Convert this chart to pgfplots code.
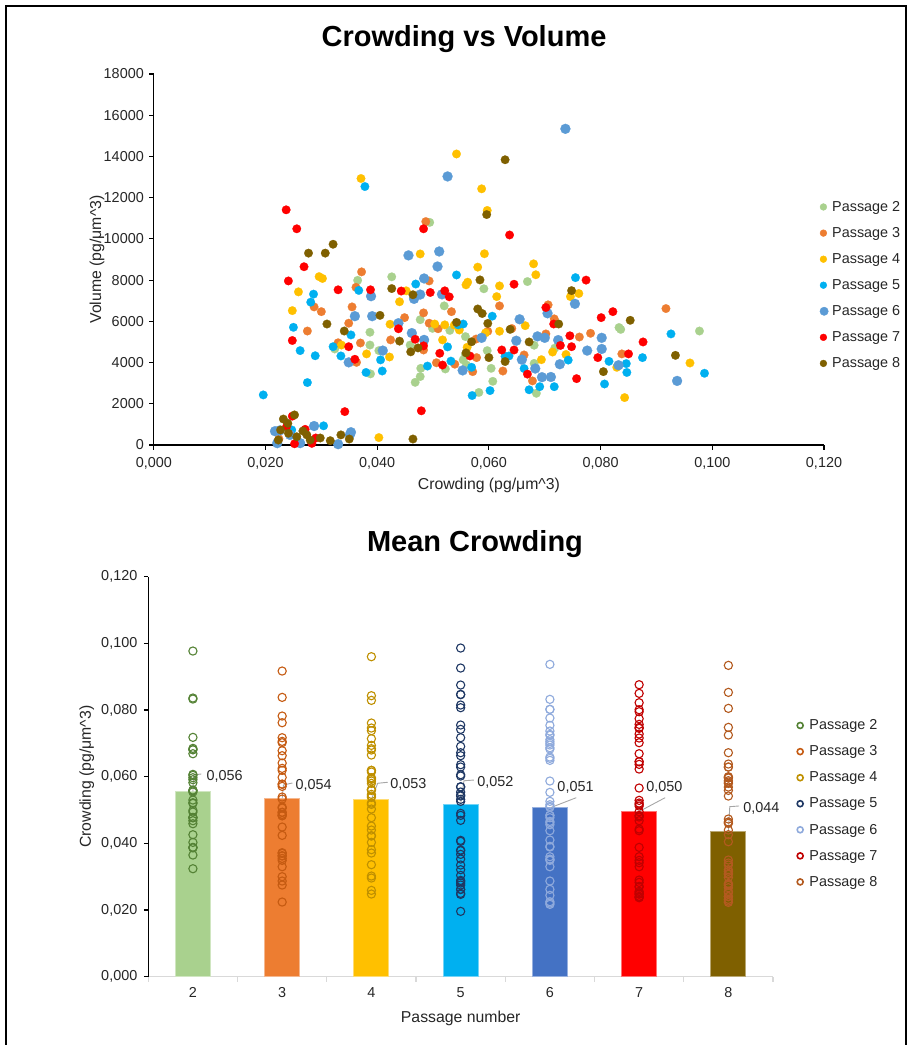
\documentclass[border=0pt]{standalone}
\usepackage{pgfplots}
\pgfplotsset{compat=1.18}
\usepackage{pgfplotstable}
\usepackage{fontspec}
\setmainfont{Liberation Sans}

% scatter fills (top chart)
\definecolor{sTwo}{HTML}{A9D18E}
\definecolor{sThree}{HTML}{ED7D31}
\definecolor{sFour}{HTML}{FFC000}
\definecolor{sFive}{HTML}{00B0F0}
\definecolor{sSix}{HTML}{5B9BD5}
\definecolor{sSeven}{HTML}{FF0000}
\definecolor{sEight}{HTML}{7F6000}
% bar fills (bottom chart)
\definecolor{bSix}{HTML}{4472C4}
% ring outlines (bottom chart)
\definecolor{rTwo}{HTML}{548235}
\definecolor{rThree}{HTML}{C55A11}
\definecolor{rFour}{HTML}{BF9000}
\definecolor{rFive}{HTML}{1F3864}
\definecolor{rSix}{HTML}{8FAADC}
\definecolor{rSeven}{HTML}{C00000}
\definecolor{rEight}{HTML}{B35A1F}
\definecolor{txt}{HTML}{262626}
\definecolor{leader}{HTML}{A6A6A6}

% crowding (pg/um^3) and volume per cell, one table per passage
\pgfplotstableread{
c v
0.0324 4660
0.0365 7990
0.0387 5470
0.0387 4850
0.0388 3450
0.0403 4580
0.0426 8160
0.0459 4850
0.0468 3040
0.0477 3320
0.0478 3720
0.0477 6080
0.0494 10800
0.0499 5660
0.0520 6750
0.0522 3690
0.0530 5560
0.0554 4130
0.0560 3880
0.0558 5260
0.0558 4390
0.0582 2550
0.0591 7580
0.0597 4580
0.0604 3720
0.0607 3090
0.0669 7930
0.0681 3960
0.0681 4840
0.0685 2510
0.0718 4700
0.0833 5700
0.0836 5610
0.0977 5530
}\pTwo

\pgfplotstableread{
c v
0.0224 300
0.0275 5530
0.0287 6700
0.0300 6470
0.0330 4960
0.0349 5910
0.0355 6700
0.0362 7650
0.0363 4010
0.0370 4950
0.0372 8400
0.0424 5100
0.0449 6180
0.0483 6410
0.0483 4610
0.0487 10840
0.0493 7960
0.0493 5910
0.0506 3990
0.0509 5640
0.0533 6470
0.0539 3920
0.0571 3560
0.0577 5140
0.0578 4240
0.0598 5520
0.0619 6750
0.0625 3590
0.0641 5650
0.0663 4370
0.0678 3110
0.0702 5390
0.0706 6800
0.0717 6120
0.0762 5240
0.0782 5420
0.0838 4420
0.0917 6620
}\pThree

\pgfplotstableread{
c v
0.0248 6520
0.0259 7430
0.0296 8170
0.0302 8080
0.0336 4850
0.0371 12930
0.0381 4420
0.0403 360
0.0422 4270
0.0423 5860
0.0440 6950
0.0452 7480
0.0477 9270
0.0503 5870
0.0517 5100
0.0521 5830
0.0538 5820
0.0547 5580
0.0542 14120
0.0559 7770
0.0562 7900
0.0561 4740
0.0580 8630
0.0587 12430
0.0592 9280
0.0594 5440
0.0597 11380
0.0614 7200
0.0619 7720
0.0619 5520
0.0665 5790
0.0680 8790
0.0684 8260
0.0694 4140
0.0714 4510
0.0738 4390
0.0746 7200
0.0761 7350
0.0829 3770
0.0843 2300
0.0960 3980
}\pFour

\pgfplotstableread{
c v
0.0196 2430
0.0247 730
0.0250 5710
0.0262 110
0.0262 4580
0.0275 3030
0.0281 6930
0.0286 7320
0.0289 4330
0.0304 930
0.0321 4770
0.0335 4320
0.0353 5340
0.0367 7500
0.0378 12540
0.0380 3520
0.0406 4130
0.0409 3590
0.0469 7810
0.0484 5050
0.0490 3830
0.0526 4760
0.0532 4070
0.0542 8250
0.0545 5830
0.0554 5870
0.0569 3770
0.0570 2400
0.0602 2640
0.0606 6250
0.0629 4300
0.0636 4320
0.0663 3710
0.0672 2680
0.0691 2830
0.0717 2830
0.0742 4120
0.0755 8120
0.0807 2960
0.0815 4060
0.0846 3950
0.0847 3520
0.0875 4240
0.0926 5390
0.0986 3480
}\pFive

\pgfplotstableread{
c v
0.0217 670
0.0221 90
0.0225 700
0.0244 490
0.0262 90
0.0287 920
0.0330 40
0.0349 4010
0.0351 490
0.0353 620
0.0360 6250
0.0389 7220
0.0391 6250
0.0410 4580
0.0438 5910
0.0456 9200
0.0462 5430
0.0466 7090
0.0477 7300
0.0484 8080
0.0484 5100
0.0508 8660
0.0511 9390
0.0516 7310
0.0526 13030
0.0553 3620
0.0587 5200
0.0649 5060
0.0655 6100
0.0659 4140
0.0683 3710
0.0687 5270
0.0695 3290
0.0700 5200
0.0705 6390
0.0711 3300
0.0724 5090
0.0727 3920
0.0737 15340
0.0754 6850
0.0776 4580
0.0802 5200
0.0802 4660
0.0832 3870
0.0937 3110
}\pSix

\pgfplotstableread{
c v
0.0237 11410
0.0238 910
0.0241 7960
0.0248 1400
0.0248 5070
0.0252 60
0.0256 10490
0.0269 8650
0.0271 760
0.0283 80
0.0290 340
0.0330 7530
0.0342 1620
0.0349 4770
0.0360 4160
0.0388 7530
0.0438 5640
0.0443 7470
0.0468 5130
0.0479 1660
0.0483 10490
0.0483 4810
0.0495 7400
0.0512 4450
0.0517 3880
0.0521 7480
0.0529 7190
0.0566 4320
0.0623 4610
0.0637 10190
0.0645 4610
0.0645 7800
0.0669 3440
0.0702 6670
0.0716 5870
0.0728 4830
0.0745 5300
0.0748 4770
0.0757 3220
0.0774 8000
0.0795 4240
0.0801 6180
0.0822 6470
0.0850 4420
0.0876 5000
}\pSeven

\pgfplotstableread{
c v
0.0223 240
0.0227 730
0.0232 1260
0.0240 1050
0.0241 570
0.0252 1460
0.0256 400
0.0267 680
0.0274 490
0.0277 9310
0.0280 240
0.0298 340
0.0307 9310
0.0310 5870
0.0316 210
0.0321 9740
0.0335 490
0.0341 5530
0.0350 290
0.0405 6290
0.0426 7590
0.0440 5040
0.0460 4520
0.0464 7290
0.0464 290
0.0473 4710
0.0542 5950
0.0559 4470
0.0569 5010
0.0580 6600
0.0584 8010
0.0588 6380
0.0596 11180
0.0598 5900
0.0600 4240
0.0629 4050
0.0629 13840
0.0638 5610
0.0672 5000
0.0725 5870
0.0748 7490
0.0805 3560
0.0853 6050
0.0934 4350
}\pEight

% mean crowding per passage
\pgfplotstableread{
p mean
2 0.0556
3 0.0535
4 0.0532
5 0.0518
6 0.0508
7 0.0496
8 0.0436
}\means

\newcommand{\ticksize}{\fontsize{14.4bp}{17bp}\selectfont}
\newcommand{\labsize}{\fontsize{15.8bp}{19bp}\selectfont}
\newcommand{\titsize}{\fontsize{29bp}{34bp}\selectfont\bfseries}

\pgfplotsset{
  scat/.style={only marks, mark=*, color=#1, mark size=4.3bp,
    mark options={line width=0.2bp},
    legend image code/.code={\fill[#1] (3.5bp,0bp) circle[radius=3.4bp];}},
  ring/.style={only marks, mark=o, color=#1, mark size=4.1bp,
    mark options={line width=1.1bp},
    legend image code/.code={\draw[#1, line width=1.6bp] (3.5bp,0bp) circle[radius=3bp];}},
  meanbar/.style={ybar, bar width=35bp, bar shift=0pt, fill=#1,
    draw=#1!55!white, line width=1bp, forget plot},
  plain/.style={
    scale only axis, clip=false, scaled ticks=false,
    axis x line*=bottom, axis y line*=left,
    axis line style={-},
    tick align=outside, major tick length=4.5bp,
    tick label style={font=\ticksize, text=txt},
    label style={font=\labsize, text=txt},
    legend cell align=left,
    every axis title shift=0pt,
  },
}

\begin{document}
\begin{tikzpicture}
\path[use as bounding box] (0,0) rectangle (912bp,-1045bp);

% ---------------- Crowding vs Volume ----------------
\begin{axis}[plain,
  at={(153.8bp,-445bp)}, anchor=south west,
  width=670.2bp, height=371bp,
  xmin=0, xmax=0.12, ymin=0, ymax=18000,
  x axis line style={black, line width=1.2bp},
  y axis line style={black, line width=1.2bp},
  tick style={black, line width=1.1bp},
  xtick={0,0.02,0.04,0.06,0.08,0.1,0.12},
  xticklabels={{0,000},{0,020},{0,040},{0,060},{0,080},{0,100},{0,120}},
  ytick={0,2000,4000,6000,8000,10000,12000,14000,16000,18000},
  yticklabels={0,2000,4000,6000,8000,10000,12000,14000,16000,18000},
  xticklabel style={yshift=-4.5bp},
  yticklabel style={xshift=-2bp},
  xlabel={Crowding (pg/μm\textasciicircum 3)},
  ylabel={Volume (pg/μm\textasciicircum 3)},
  xlabel style={at={(axis description cs:0.5,-0.11)}, anchor=center},
  ylabel style={at={(axis description cs:-0.0848,0.5)}, anchor=center},
  title={Crowding vs Volume},
  title style={font=\titsize, at={(axis description cs:0.4629,1.0943)}, anchor=center},
  legend style={at={(axis description cs:0.9933,0.6631)}, anchor=north west,
    draw=none, fill=none, inner sep=0pt, font=\ticksize, text=txt,
    row sep=10.6bp, column sep=1.7bp,
    nodes={inner sep=2bp, text depth=0.15em}},
]
\addplot[scat=sTwo] table[x=c, y=v] {\pTwo};
\addlegendentry{Passage 2}
\addplot[scat=sThree] table[x=c, y=v] {\pThree};
\addlegendentry{Passage 3}
\addplot[scat=sFour] table[x=c, y=v] {\pFour};
\addlegendentry{Passage 4}
\addplot[scat=sFive] table[x=c, y=v] {\pFive};
\addlegendentry{Passage 5}
\addplot[scat=sSix, mark size=5bp,
  legend image code/.code={\fill[sSix] (4.2bp,0bp) circle[radius=4.2bp];}]
  table[x=c, y=v] {\pSix};
\addlegendentry{Passage 6}
\addplot[scat=sSeven] table[x=c, y=v] {\pSeven};
\addlegendentry{Passage 7}
\addplot[scat=sEight] table[x=c, y=v] {\pEight};
\addlegendentry{Passage 8}
\end{axis}

% ---------------- Mean Crowding ----------------
\begin{axis}[plain,
  at={(148.3bp,-976.7bp)}, anchor=south west,
  width=624.7bp, height=400bp,
  xmin=1.5, xmax=8.5, ymin=0, ymax=0.12,
  x axis line style={draw=black!15, line width=1.5bp},
  y axis line style={black, line width=1.2bp},
  ytick style={black, line width=1.1bp},
  xtick style={draw=none},
  minor xtick={1.5,2.5,3.5,4.5,5.5,6.5,7.5,8.5},
  minor tick length=5bp,
  minor x tick style={draw=black!15, line width=1.3bp},
  xtick={2,3,4,5,6,7,8},
  xticklabels={2,3,4,5,6,7,8},
  ytick={0,0.02,0.04,0.06,0.08,0.1,0.12},
  yticklabels={{0,000},{0,020},{0,040},{0,060},{0,080},{0,100},{0,120}},
  xticklabel style={yshift=-2.8bp},
  yticklabel style={xshift=-3bp},
  xlabel={Passage number},
  ylabel={Crowding (pg/μm\textasciicircum 3)},
  xlabel style={at={(axis description cs:0.5,-0.104)}, anchor=center},
  ylabel style={at={(axis description cs:-0.0986,0.5)}, anchor=center},
  title={Mean Crowding},
  title style={font=\titsize, at={(axis description cs:0.523,1.0818)}, anchor=center},
  legend style={at={(axis description cs:1.0371,0.648)}, anchor=north west,
    draw=none, fill=none, inner sep=0pt, font=\ticksize, text=txt,
    row sep=10.6bp, column sep=3.5bp,
    nodes={inner sep=2bp, text depth=0.15em}},
]
\addplot[meanbar=sTwo]   table[x=p, y=mean, restrict x to domain=2:2] {\means};
\addplot[meanbar=sThree] table[x=p, y=mean, restrict x to domain=3:3] {\means};
\addplot[meanbar=sFour]  table[x=p, y=mean, restrict x to domain=4:4] {\means};
\addplot[meanbar=sFive]  table[x=p, y=mean, restrict x to domain=5:5] {\means};
\addplot[meanbar=bSix]   table[x=p, y=mean, restrict x to domain=6:6] {\means};
\addplot[meanbar=sSeven] table[x=p, y=mean, restrict x to domain=7:7] {\means};
\addplot[meanbar=sEight] table[x=p, y=mean, restrict x to domain=8:8] {\means};

\addplot[ring=rTwo]   table[x expr=2, y=c] {\pTwo};
\addlegendentry{Passage 2}
\addplot[ring=rThree] table[x expr=3, y=c] {\pThree};
\addlegendentry{Passage 3}
\addplot[ring=rFour]  table[x expr=4, y=c] {\pFour};
\addlegendentry{Passage 4}
\addplot[ring=rFive]  table[x expr=5, y=c] {\pFive};
\addlegendentry{Passage 5}
\addplot[ring=rSix]   table[x expr=6, y=c] {\pSix};
\addlegendentry{Passage 6}
\addplot[ring=rSeven] table[x expr=7, y=c] {\pSeven};
\addlegendentry{Passage 7}
\addplot[ring=rEight] table[x expr=8, y=c] {\pEight};
\addlegendentry{Passage 8}

% value labels with leader lines
\begin{scope}[leader, line width=0.9bp]
\draw (axis cs:2,0.0556) -- ++(0.7bp,16.4bp) -- ++(7.7bp,1bp);
\draw (axis cs:3,0.0535) -- ++(1.3bp,13.4bp) -- ++(9bp,2bp);
\draw (axis cs:4,0.0532) -- ++(6.3bp,16.1bp) -- ++(10bp,1bp);
\draw (axis cs:5,0.0518) -- ++(3.3bp,23.3bp) -- ++(10bp,0.7bp);
\draw (axis cs:6,0.0508) ++(1.4bp,0bp) -- ++(25bp,9.7bp);
\draw (axis cs:7,0.0496) ++(0.3bp,0bp) -- ++(25.7bp,13.7bp);
\draw (axis cs:8,0.0436) -- ++(1.4bp,24.7bp) -- ++(9.3bp,0.7bp);
\end{scope}
\begin{scope}[every node/.style={anchor=base west, inner sep=0pt, font=\ticksize, text=txt}]
\node[xshift=13.4bp, yshift=10.5bp] at (axis cs:2,0.0556) {0,056};
\node[xshift=13.3bp, yshift=9.2bp]  at (axis cs:3,0.0535) {0,054};
\node[xshift=18.7bp, yshift=10.9bp] at (axis cs:4,0.0532) {0,053};
\node[xshift=16.6bp, yshift=17.8bp] at (axis cs:5,0.0518) {0,052};
\node[xshift=7.4bp,  yshift=15.5bp] at (axis cs:6,0.0508) {0,051};
\node[xshift=7bp,    yshift=19.5bp] at (axis cs:7,0.0496) {0,050};
\node[xshift=14.7bp, yshift=18.9bp] at (axis cs:8,0.0436) {0,044};
\end{scope}
\end{axis}

% outer frame
\draw[black, line width=1.8bp] (6bp,-1046bp) -- (6bp,-6bp) -- (906bp,-6bp) -- (906bp,-1046bp);
\end{tikzpicture}
\end{document}
